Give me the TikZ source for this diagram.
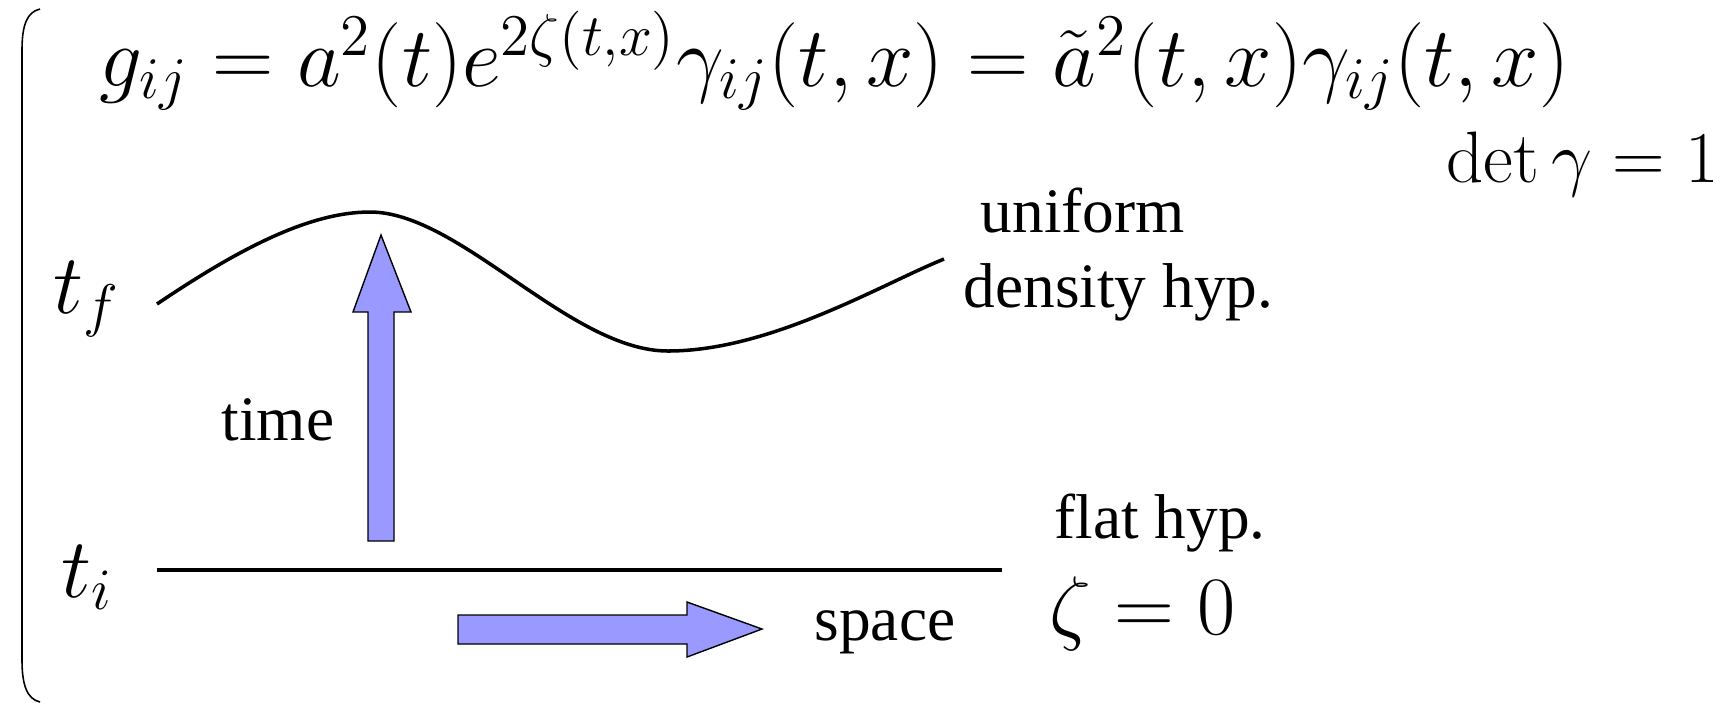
\documentclass[tikz,border=0pt]{standalone}
\usepackage[no-math]{fontspec}
\setmainfont{Liberation Serif}
\usepackage{graphicx}
\usepackage{tikz}
\definecolor{arrowblue}{HTML}{9999FF}
\tikzset{
  label/.style={inner sep=0pt, anchor=base west, font=\fontsize{18}{21.3}\selectfont},
  mathlabel/.style={inner sep=0pt, anchor=base west, font=\fontsize{20.74}{25}\selectfont},
  hyp/.style={line width=1pt},
  blockarrow/.style={draw=black, line width=0.4pt, fill=arrowblue, line join=miter}
}

\begin{document}
\begin{tikzpicture}[x=0.01cm, y=-0.01cm]
\useasboundingbox (0,0) rectangle (1731,705);

% left bracket
\draw[line width=0.45pt] (40,9) .. controls (27,12) and (22,25) .. (22,50)
  -- (22,660) .. controls (22,685) and (27,699) .. (40,702);

% metric
\node[mathlabel] (metric) at (99,86)
  {\scalebox{1.167}{$g_{ij}=a^2(t)e^{2\zeta(t,x)}\gamma_{ij}(t,x)=\tilde{a}^2(t,x)\gamma_{ij}(t,x)$}};
\node[mathlabel] (det) at (1446,182) {$\det\gamma=1$};

% slices
\node[mathlabel] (tf) at (53,313) {\scalebox{1.16}{$t_f$}};
\node[mathlabel] (ti) at (61,597) {\scalebox{1.16}{$t_i$}};
\coordinate (fstart) at (157,304);
\coordinate (fend) at (944,259);
\coordinate (istart) at (157,570);
\coordinate (iend) at (1002,570);
\draw[hyp] (fstart) .. controls (240,248) and (310,212) .. (370,212)
  .. controls (460,212) and (570,351) .. (668,351)
  .. controls (770,351) and (880,285) .. (fend);
\draw[hyp] (istart) -- (iend);

\node[label, align=left] (uniform) at (963,307) {\hspace*{0.17cm}uniform\\density hyp.};
\node[label] (flat) at (1054,538) {flat hyp.};
\node[mathlabel] (zeta) at (1049,634) {\scalebox{1.138}{$\zeta=0$}};

% arrows
\draw[blockarrow] (368,541) -- (368,312) -- (353,312) -- (381,235) -- (411,312)
  -- (394,312) -- (394,541) -- cycle;
\draw[blockarrow] (458,615) -- (687,615) -- (687,602) -- (762,629) -- (687,657)
  -- (687,644) -- (458,644) -- cycle;
\node[label] (time) at (221,440) {time};
\node[label] (space) at (814,640) {space};

\end{tikzpicture}
\end{document}
